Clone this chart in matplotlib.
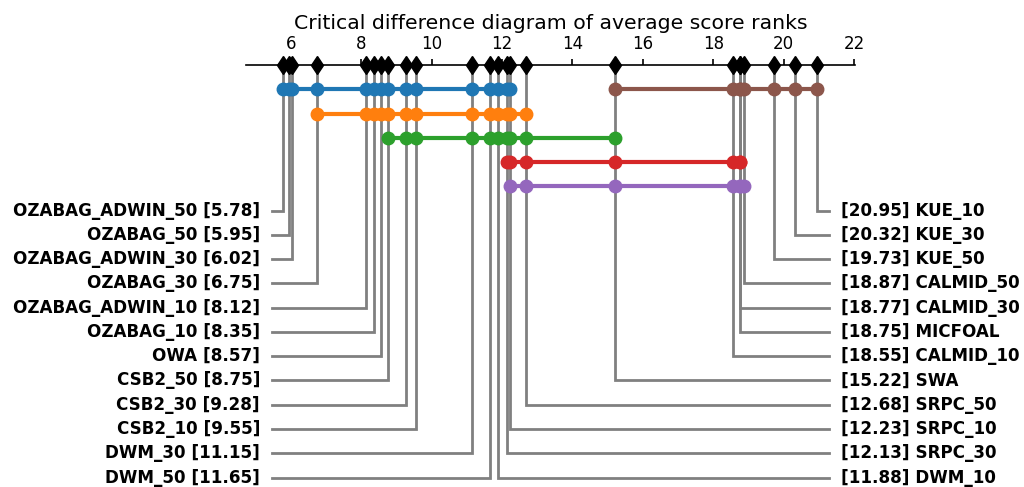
import matplotlib
matplotlib.use("Agg")
import matplotlib.pyplot as plt

# ---- data ----
methods = ["OZABAG_ADWIN_50", "OZABAG_50", "OZABAG_ADWIN_30", "OZABAG_30",
           "OZABAG_ADWIN_10", "OZABAG_10", "OWA", "CSB2_50", "CSB2_30",
           "CSB2_10", "DWM_30", "DWM_50", "DWM_10", "SRPC_30", "SRPC_10",
           "SRPC_50", "SWA", "CALMID_10", "MICFOAL", "CALMID_30",
           "CALMID_50", "KUE_50", "KUE_30", "KUE_10"]
ranks = [5.78, 5.95, 6.02, 6.75, 8.12, 8.35, 8.57, 8.75, 9.28, 9.55, 11.15,
         11.65, 11.88, 12.13, 12.23, 12.68, 15.22, 18.55, 18.75, 18.77,
         18.87, 19.73, 20.32, 20.95]

# cliques (groups not significantly different): first, last member index
clique_blue = (0, 14)
clique_orange = (3, 15)
clique_green = (7, 16)
clique_red = (13, 19)
clique_purple = (14, 20)
clique_brown = (16, 23)

title = "Critical difference diagram of average score ranks"
xticks = [6, 8, 10, 12, 14, 16, 18, 20, 22]

# ---- figure ----
W, H = 1024, 487
fig = plt.figure(figsize=(W / 100, H / 100), dpi=100)
ax = fig.add_axes([246 / W, 0, 609 / W, 422 / H])
ax.set_xlim(4.72, 22.03)
ax.set_ylim(17.39, 0)

for s in ["left", "right", "bottom"]:
    ax.spines[s].set_visible(False)
ax.spines["top"].set_linewidth(1.2)
ax.set_yticks([])
ax.xaxis.tick_top()
ax.set_xticks(xticks)
ax.tick_params(axis="x", direction="out", length=4, width=1.2, pad=4.5,
               labelsize=12)
ax.set_title(title, fontsize=14.7, pad=26)

gray = "#808080"
n = len(ranks)
half = n // 2
left_edge, right_edge = 5.46, 21.30
left_text, right_text = 5.12, 21.62
for i, (name, r) in enumerate(zip(methods, ranks)):
    if i < half:
        lvl = 6 + i
        ax.plot([r, r, left_edge], [0, lvl, lvl], color=gray, lw=2,
                zorder=1, clip_on=False, solid_joinstyle="miter")
        ax.text(left_text, lvl, f"{name} [{r:.2f}]", ha="right", va="center",
                fontsize=12.1, fontweight="bold", clip_on=False)
    else:
        lvl = 6 + (n - 1 - i)
        ax.plot([r, r, right_edge], [0, lvl, lvl], color=gray, lw=2,
                zorder=1, clip_on=False, solid_joinstyle="miter")
        ax.text(right_text, lvl, f"[{r:.2f}] {name}", ha="left", va="center",
                fontsize=12.1, fontweight="bold", clip_on=False)

cliques = [(clique_blue, 1, "C0"), (clique_orange, 2, "C1"),
           (clique_green, 3, "C2"), (clique_red, 4, "C3"),
           (clique_purple, 5, "C4"), (clique_brown, 1, "C5")]
for (a, b), lvl, col in cliques:
    xs = ranks[a:b + 1]
    ax.plot(xs, [lvl] * len(xs), color=col, lw=3, marker="o", ms=9,
            zorder=3, clip_on=False)

ax.plot(ranks, [0] * n, linestyle="none", marker="d", color="black", ms=9.5,
        zorder=4, clip_on=False)

fig.savefig("out.png", dpi=100)
